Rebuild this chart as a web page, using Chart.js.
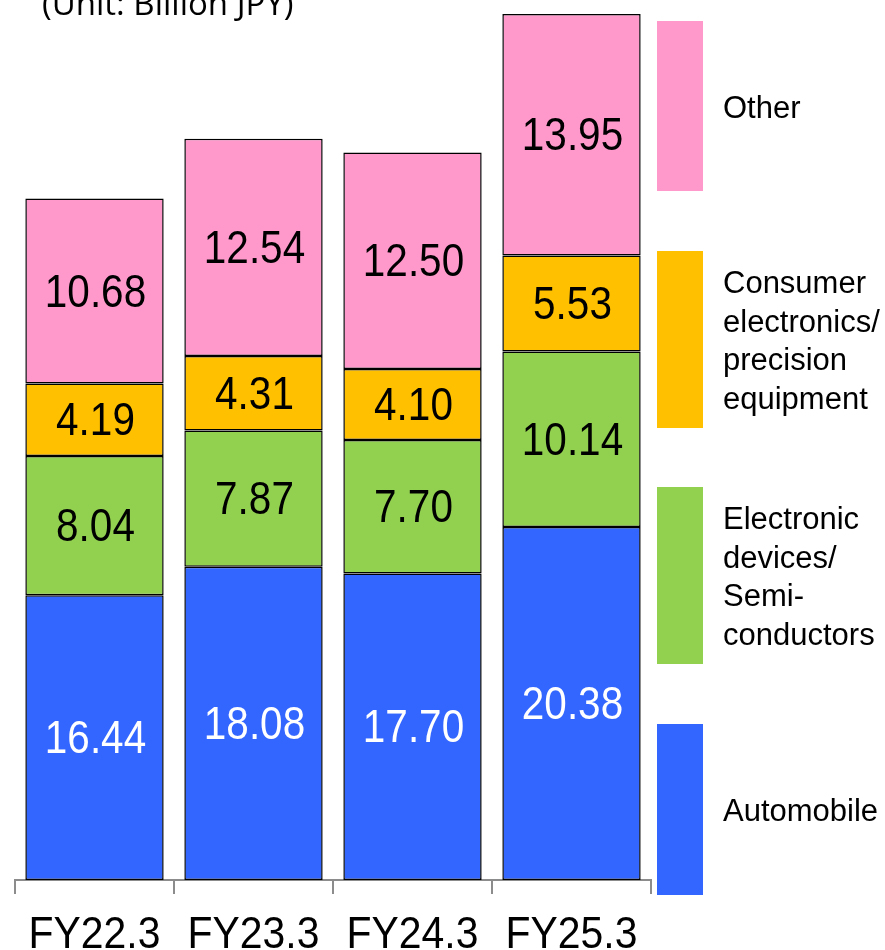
<!DOCTYPE html>
<html>
<head>
<meta charset="utf-8">
<script src="https://cdn.jsdelivr.net/npm/chart.js@4.4.1/dist/chart.umd.min.js"></script>
<style>
  html, body { margin: 0; padding: 0; background: #fff; }
  #wrap { position: relative; width: 885px; height: 950px; }
</style>
</head>
<body>
<div id="wrap"><canvas id="salesChart"></canvas></div>
<script>
// sales by application, billion JPY
const years = ["FY22.3", "FY23.3", "FY24.3", "FY25.3"];
const automobile = [16.44, 18.08, 17.70, 20.38];
const semiconductors = [8.04, 7.87, 7.70, 10.14];
const consumerElectronics = [4.19, 4.31, 4.10, 5.53];
const other = [10.68, 12.54, 12.50, 13.95];

const seriesNames = [
  ["Automobile"],
  ["Electronic", "devices/", "Semi-", "conductors"],
  ["Consumer", "electronics/", "precision", "equipment"],
  ["Other"],
];
const seriesColors = ["#3366ff", "#92d050", "#ffc000", "#ff99cc"];
const labelColors = ["#ffffff", "#000000", "#000000", "#000000"];

// legend blocks on the right (top, bottom)
const legendBoxes = [
  [724, 895],
  [487, 664],
  [251, 428],
  [21, 191],
];

const font = "'Liberation Sans', Arial, sans-serif";

// value labels, category labels, unit note and legend
const annotate = {
  id: "annotate",
  afterDatasetsDraw(chart) {
    const ctx = chart.ctx;
    ctx.save();
    ctx.textAlign = "center";
    ctx.textBaseline = "middle";
    ctx.font = "46px " + font;
    chart.data.datasets.forEach((ds, i) => {
      const meta = chart.getDatasetMeta(i);
      meta.data.forEach((bar, j) => {
        const p = bar.getProps(["x", "y", "base"], true);
        ctx.save();
        ctx.translate(p.x + 1, (p.y + p.base) / 2 + 3);
        ctx.scale(0.88, 1);
        ctx.fillStyle = labelColors[i];
        ctx.fillText(ds.data[j].toFixed(2), 0, 0);
        ctx.restore();
      });
    });
    ctx.restore();
  },
  afterDraw(chart) {
    const ctx = chart.ctx;
    const xs = chart.scales.x;
    ctx.save();

    // category labels
    ctx.fillStyle = "#000";
    ctx.font = "44px " + font;
    ctx.textAlign = "center";
    ctx.textBaseline = "alphabetic";
    years.forEach((y, i) => {
      ctx.save();
      ctx.translate(xs.getPixelForValue(i), 948);
      ctx.scale(0.93, 1);
      ctx.fillText(y, 0, 0);
      ctx.restore();
    });

    // unit note
    ctx.textAlign = "left";
    ctx.font = "33px 'Open Sans', sans-serif";
    ctx.fillText("(Unit: Billion JPY)", 42, 15);

    // legend
    ctx.font = "31px " + font;
    ctx.textBaseline = "middle";
    legendBoxes.forEach((b, i) => {
      ctx.fillStyle = seriesColors[i];
      ctx.fillRect(657, b[0], 46, b[1] - b[0]);
      const lines = seriesNames[i];
      const lh = 38.7;
      const mid = (b[0] + b[1]) / 2;
      ctx.fillStyle = "#000";
      lines.forEach((t, k) => {
        ctx.fillText(t, 723, mid + (k - (lines.length - 1) / 2) * lh + 3);
      });
    });
    ctx.restore();
  },
};

const makeSet = (name, data, i) => ({
  label: name,
  data: data,
  backgroundColor: seriesColors[i],
  borderColor: "#000",
  borderWidth: 1.5,
  borderSkipped: false,
  barPercentage: 0.87,
  categoryPercentage: 1.0,
});

new Chart(document.getElementById("salesChart"), {
  type: "bar",
  data: {
    labels: years,
    datasets: [
      makeSet("Automobile", automobile, 0),
      makeSet("Electronic devices/Semiconductors", semiconductors, 1),
      makeSet("Consumer electronics/precision equipment", consumerElectronics, 2),
      makeSet("Other", other, 3),
    ],
  },
  options: {
    responsive: true,
    maintainAspectRatio: false,
    animation: false,
    layout: { padding: { left: 15, right: 234, top: 14, bottom: 0 } },
    scales: {
      x: {
        stacked: true,
        grid: {
          offset: true,
          drawOnChartArea: false,
          drawTicks: true,
          tickLength: 14,
          color: "#8c8c8c",
          lineWidth: 2,
        },
        border: { color: "#8c8c8c", width: 2 },
        ticks: { display: false },
        afterFit(scale) {
          scale.height = 70;
        },
      },
      y: {
        stacked: true,
        display: false,
        min: 0,
        max: 50,
      },
    },
    plugins: {
      legend: { display: false },
      tooltip: { enabled: false },
    },
  },
  plugins: [annotate],
});
</script>
</body>
</html>
